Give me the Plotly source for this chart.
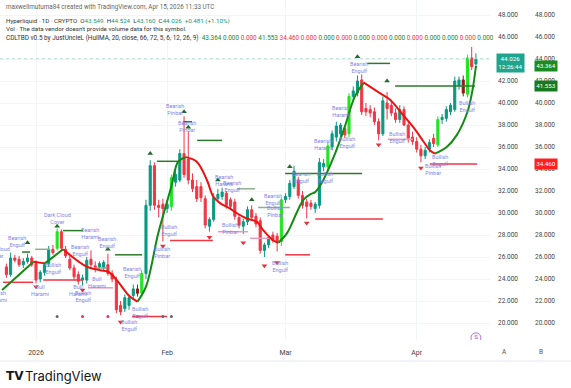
import pandas as pd
import plotly.graph_objects as go

BASE = pd.Timestamp("2026-01-01")

# ---------------- data (day offsets from 2026-01-01) ----------------
day = list(range(-7, 105))
opens = [25.1, 24.4, 25.9, 25.8, 25.3, 25.6, 25.9, 25.4, 24.0, 24.6, 25.4, 26.7, 26.8, 28.3, 26.7, 25.8, 25.0, 24.4, 23.9, 23.9,
         25.8, 25.2, 25.1, 25.0, 25.3, 24.5, 23.9, 21.6, 21.3, 21.6, 22.5, 23.1, 22.7, 24.5, 30.7, 34.3, 30.7, 30.8, 30.4, 30.6,
         32.8, 33.0, 35.4, 34.9, 33.0, 32.4, 32.4, 31.3, 28.8, 29.4, 31.3, 31.5, 31.8, 31.2, 31.0, 29.6, 28.8, 29.2, 30.3, 29.7,
         29.3, 26.6, 27.1, 28.0, 27.9, 27.4, 31.2, 31.5, 32.4, 33.0, 31.6, 31.0, 30.9, 30.4, 30.7, 34.2, 34.2, 36.0, 36.9, 37.2,
         37.7, 37.2, 40.6, 40.9, 42.1, 39.5, 39.4, 39.2, 38.3, 37.2, 40.0, 39.8, 39.1, 38.5, 39.4, 38.0, 36.9, 36.5, 35.8, 35.2,
         35.8, 36.8, 36.2, 38.5, 38.6, 39.2, 39.4, 41.6, 42.1, 40.8, 44.1, 43.549]
highs = [25.4, 26.4, 26.2, 26.1, 25.9, 26.3, 26.1, 25.7, 24.8, 25.5, 27.0, 27.1, 28.6, 28.5, 27.0, 26.1, 25.3, 24.7, 24.4, 26.0,
         26.6, 25.6, 25.6, 25.7, 26.3, 24.8, 24.2, 22.0, 22.6, 22.5, 23.5, 23.5, 24.8, 31.2, 34.8, 34.6, 31.2, 31.3, 31.2, 33.5,
         33.9, 35.8, 38.8, 37.4, 33.6, 33.0, 32.8, 31.6, 29.6, 31.8, 32.2, 32.3, 32.0, 31.4, 31.3, 29.9, 29.5, 30.6, 30.7, 30.0,
         29.6, 27.3, 28.0, 28.3, 28.2, 31.4, 31.8, 33.0, 34.3, 33.3, 32.0, 31.3, 31.2, 31.0, 35.0, 34.9, 36.4, 37.5, 38.3, 38.2,
         38.0, 40.9, 41.5, 42.5, 42.6, 40.0, 39.8, 39.6, 38.6, 40.6, 41.0, 40.3, 39.5, 39.8, 39.7, 38.3, 37.4, 36.9, 36.2, 36.0,
         36.7, 37.2, 38.8, 39.0, 39.7, 40.0, 42.4, 42.4, 42.5, 44.4, 45.1, 44.524]
lows = [24.1, 24.2, 25.5, 25.1, 25.0, 25.4, 25.1, 23.6, 23.7, 24.3, 25.1, 26.2, 26.6, 26.6, 25.9, 24.8, 23.9, 23.5, 23.4, 23.6,
        24.9, 24.6, 24.8, 24.8, 24.3, 23.7, 20.9, 20.7, 21.0, 21.2, 22.2, 22.4, 22.4, 24.0, 30.2, 30.3, 29.6, 27.4, 30.0, 30.2,
        32.4, 32.8, 33.2, 32.6, 31.9, 31.0, 31.0, 28.6, 28.3, 29.2, 31.0, 31.2, 30.4, 30.3, 29.4, 28.6, 28.1, 28.9, 29.3, 28.7,
        26.3, 26.0, 26.8, 27.3, 26.5, 27.0, 30.9, 31.2, 32.2, 31.3, 30.4, 29.5, 30.3, 30.0, 30.4, 33.8, 33.9, 35.7, 36.5, 36.9,
        36.8, 36.9, 40.2, 40.6, 38.9, 38.8, 38.7, 38.0, 36.6, 37.0, 38.5, 38.8, 38.2, 38.2, 37.9, 36.4, 36.2, 35.5, 34.6, 34.9,
        35.5, 36.0, 36.0, 38.1, 38.3, 38.9, 39.2, 41.2, 40.6, 40.5, 43.0, 43.160]
closes = [24.4, 25.9, 25.7, 25.3, 25.6, 25.9, 25.3, 23.9, 24.6, 25.3, 26.7, 26.4, 28.3, 26.8, 26.1, 25.0, 24.2, 23.8, 24.1, 25.7,
          25.3, 25.1, 25.4, 25.5, 24.5, 24.0, 21.2, 21.0, 22.3, 22.3, 23.1, 22.7, 24.5, 30.7, 34.3, 30.7, 30.5, 30.4, 30.8, 33.2,
          33.5, 35.4, 33.5, 33.0, 32.2, 31.3, 31.4, 28.9, 29.4, 31.4, 31.7, 31.9, 30.7, 30.6, 29.7, 28.9, 29.2, 30.3, 29.6, 29.0,
          26.6, 27.1, 27.8, 27.5, 27.4, 31.2, 31.5, 32.7, 33.8, 31.6, 30.7, 30.6, 30.6, 30.8, 34.6, 34.5, 36.1, 37.2, 37.9, 38.0,
          37.1, 40.6, 41.1, 42.0, 39.2, 39.2, 39.1, 38.3, 37.2, 40.2, 39.5, 39.1, 38.5, 39.4, 38.0, 36.8, 36.5, 35.8, 35.2, 35.7,
          36.4, 36.3, 38.5, 38.7, 39.4, 39.8, 42.0, 42.1, 40.9, 44.1, 43.3, 44.026]
lime_days = [5, 25, 32, 58, 69, 74, 95, 102]
maroon_days = [24, 101]

# HullMA line
hull_day = [-8, -0.6, 2.1, 6.4, 12, 15.1, 17.1, 19.1, 22.2, 24, 26, 28.9, 32, 33.6, 35.4, 38, 40.4, 41.9, 43.5,
            45.9, 47.4, 49.8, 52.2, 53.7, 56.1, 57.3, 59.3, 61.6, 63.2, 64.8, 66, 67.5, 70.7, 73, 75.4, 77.5, 81.3,
            83.7, 86.8, 89.2, 91.6, 93.1, 94.3, 97.1, 99.5, 102, 103.2, 104]
hull_val = [23.0, 25.57, 25.42, 26.7, 25.12, 24.8, 24.66, 23.9, 22.4, 21.94, 23.3, 28.15, 32.4, 34.67, 35.08, 34.67,
            33.0, 31.5, 30.9, 30.4, 30.0, 29.5, 29.2, 28.45, 27.5, 27.3, 28.15, 30.0, 31.2, 31.7, 31.9, 32.7, 35.4,
            37.85, 40.6, 41.85, 40.9, 40.3, 38.9, 37.8, 36.5, 35.7, 35.4, 36.0, 37.1, 39.2, 41.2, 43.364]

# support / resistance segments: (start day, end day, level)
lv_green = [(-3.3, -1.4, 26.45), (6.4, 11.1, 28.4), (18.7, 25.1, 26.2), (28.6, 33.6, 34.7), (34.8, 36.9, 38.3),
            (38.1, 44.0, 36.6), (58.9, 77.1, 33.6), (78.3, 83.7, 43.6), (84.9, 103.8, 41.553)]
lv_grey = [(-0.2, 3.3, 26.7), (14.0, 16.8, 25.0), (47.5, 51.8, 32.2), (52.5, 60.0, 30.5)]
lv_red = [(-7.8, -0.7, 23.7), (1.7, 11.1, 23.9), (22.7, 31.0, 20.6), (31.7, 41.8, 27.5), (58.9, 64.8, 26.2),
          (66.0, 82.0, 29.45), (93.1, 104.3, 34.46)]
lv_pink = [(12.3, 18.2, 23.2), (43.0, 50.1, 28.3), (50.6, 55.3, 27.7), (83.2, 89.1, 36.7)]

up_tri_day = [-2, 5, 17, 27, 35, 36, 43, 51, 60, 76, 83]
up_tri_val = [27.3, 28.8, 26.7, 35.4, 39.2, 37.8, 33.0, 31.2, 34.2, 44.2, 42.0]
dn_tri_day = [0, 11, 20, 30, 41, 49, 54, 57, 64, 81, 91]
dn_tri_val = [23.3, 23.0, 20.1, 27.0, 27.8, 27.3, 25.2, 25.5, 29.1, 36.2, 34.1]

dot_grey_day = [5, 30, 32]
dot_red_day = [11, 17, 24]
dot_level = 20.6

pat_text = ["Bearish<br>Engulf", "Dark Cloud<br>Cover", "Bullish<br>Harami", "Dark Cloud<br>Cover", "Bull<br>Harami",
            "Bullish<br>Engulf", "Bearish<br>Harami", "Bearish<br>Engulf", "Bearish<br>Engulf", "Bull<br>Harami",
            "Bullish<br>Engulf", "Bull<br>Harami", "Bearish<br>Engulf", "Bullish<br>Engulf", "Bullish<br>Engulf",
            "Bearish<br>Pinbar", "Bearish<br>Pinbar", "Bullish<br>Engulf", "Bullish<br>Pinbar", "Bearish<br>Harami",
            "Bearish<br>Engulf", "Bullish<br>Pinbar", "Bearish<br>Engulf", "Bullish<br>Pinbar", "Bullish<br>Engulf",
            "Bearish<br>Engulf", "Bearish<br>Harami", "Bullish<br>Engulf", "Bullish<br>Engulf", "Bearish<br>Harami",
            "Bearish<br>Engulf", "Bullish<br>Engulf", "Bullish<br>Engulf", "Bullish<br>Pinbar", "Bullish<br>Engulf"]
pat_day = [-4.5, -5.7, -6.4, 5, 1, 4, 12.8, 10.4, 16.8, 10, 11, 14.4, 22.7, 24.6, 22, 32.9, 35.7, 31.4, 29.8, 44.4,
           46.3, 45.9, 56, 56.5, 57.7, 62.6, 67.8, 68.3, 73.5, 72.1, 76.4, 85.3, 95.5, 93.9, 101.9]
pat_val = [27.45, 26.45, 22.45, 29.5, 23.0, 25.0, 28.1, 26.6, 27.3, 23.0, 22.4, 23.7, 24.6, 21.0, 19.8, 39.4, 37.9,
           28.45, 26.4, 33.0, 32.4, 28.6, 31.2, 30.1, 25.1, 33.2, 36.2, 33.2, 36.4, 39.2, 43.2, 36.9, 34.8, 34.0, 39.7]

price_ticks = [20, 22, 24, 26, 28, 30, 32, 34, 36, 38, 40, 42, 44, 46, 48]
month_ticks = ["2026-01-01", "2026-02-01", "2026-03-01", "2026-04-01"]
month_text = ["2026", "Feb", "Mar", "Apr"]

legend_vals = ["43.364", "0.000", "0.000", "41.553", "34.460"] + ["0.000"] * 11
legend_cols = ["g", "g", "r", "g", "r", "r", "g", "r", "g", "r", "g", "r", "g", "g", "r", "g"]

# ---------------- styling ----------------
UP, DN, LIME, MAROON = "#089981", "#F23645", "#1ee61e", "#8e1b1b"
HULL_UP, HULL_DN = "#138a13", "#ee1111"
LBL = "#7f86e6"
FONT = "Roboto"
W, H = 571, 388
PLOT_R = 490
PLOT_B = 340


def dt(d):
    return BASE + pd.Timedelta(days=d)


dates = [dt(d) for d in day]
fig = go.Figure()


def candles(idx, inc, dec):
    fig.add_trace(go.Candlestick(
        x=[dates[i] for i in idx], open=[opens[i] for i in idx], high=[highs[i] for i in idx],
        low=[lows[i] for i in idx], close=[closes[i] for i in idx],
        increasing=dict(line=dict(color=inc, width=1), fillcolor=inc),
        decreasing=dict(line=dict(color=dec, width=1), fillcolor=dec),
        whiskerwidth=0, showlegend=False, hoverinfo="skip"))


special = set(lime_days) | set(maroon_days)
candles([i for i, d in enumerate(day) if d not in special], UP, DN)
candles([i for i, d in enumerate(day) if d in lime_days], LIME, LIME)
candles([i for i, d in enumerate(day) if d in maroon_days], MAROON, MAROON)

# level segments
for segs, col, w in [(lv_green, "#2b7a2b", 1.5), (lv_grey, "#8fae8f", 1.5), (lv_red, "#f23645", 1.5),
                     (lv_pink, "#e99ab8", 1.5)]:
    for d0, d1, p in segs:
        fig.add_trace(go.Scatter(x=[dt(d0), dt(d1)], y=[p, p], mode="lines", line=dict(color=col, width=w),
                                 showlegend=False, hoverinfo="skip"))

# Hull line, coloured by direction
ext = [0]
for i in range(1, len(hull_val) - 1):
    if (hull_val[i] - hull_val[i - 1]) * (hull_val[i + 1] - hull_val[i]) < 0:
        ext.append(i)
ext.append(len(hull_val) - 1)
for a, b in zip(ext[:-1], ext[1:]):
    col = HULL_UP if hull_val[b] > hull_val[a] else HULL_DN
    fig.add_trace(go.Scatter(x=[dt(d) for d in hull_day[a:b + 1]], y=hull_val[a:b + 1], mode="lines",
                             line=dict(color=col, width=2, shape="spline", smoothing=1.0),
                             showlegend=False, hoverinfo="skip"))

fig.add_trace(go.Scatter(x=[dt(d) for d in up_tri_day], y=up_tri_val, mode="markers",
                         marker=dict(symbol="triangle-up", size=5, color="#1f6b2a"), showlegend=False, hoverinfo="skip"))
fig.add_trace(go.Scatter(x=[dt(d) for d in dn_tri_day], y=dn_tri_val, mode="markers",
                         marker=dict(symbol="triangle-down", size=5, color="#e8303a"), showlegend=False, hoverinfo="skip"))
fig.add_trace(go.Scatter(x=[dt(d) for d in dot_grey_day], y=[dot_level] * len(dot_grey_day), mode="markers",
                         marker=dict(size=3, color="#666"), showlegend=False, hoverinfo="skip"))
fig.add_trace(go.Scatter(x=[dt(d) for d in dot_red_day], y=[dot_level] * len(dot_red_day), mode="markers",
                         marker=dict(size=3, color="#e8306a"), showlegend=False, hoverinfo="skip"))
# event marker
fig.add_trace(go.Scatter(x=[dates[-1]], y=[18.65], mode="markers+text", text=["S"],
                         textfont=dict(size=6, color="#a040c8", family=FONT),
                         marker=dict(symbol="circle-open", size=10, color="#b070d8", line=dict(width=1)),
                         showlegend=False, hoverinfo="skip"))
# dummy on second price axis
fig.add_trace(go.Scatter(x=[dates[0]], y=[None], yaxis="y2", showlegend=False, hoverinfo="skip"))

ann = []
for t, d, p in zip(pat_text, pat_day, pat_val):
    xa = "right" if d < -5 else "center"
    ann.append(dict(x=dt(d), y=p, xref="x", yref="y", text=t, showarrow=False, xanchor=xa,
                    align="center", font=dict(size=5.5, color=LBL, family=FONT)))


def px(xp):
    return xp / W


def py(yp):
    return 1 - yp / H


SP = "\u00a0"
hdr = dict(xref="paper", yref="paper", showarrow=False, xanchor="left", yanchor="middle",
           font=dict(size=6.2, color="#333", family=FONT))
g = lambda s: f'<span style="color:#089981">{s}</span>'
ann.append(dict(hdr, x=px(4), y=py(7), text="maxwellmutuma84 created with TradingView.com, Apr 15, 2026 11:33 UTC",
                font=dict(size=6.3, color="#666", family=FONT)))
ann.append(dict(hdr, x=px(4), y=py(20.7),
                text="Hyperliquid · 1D · CRYPTO" + SP * 2 + "O" + g("43.549") + SP * 2 + "H" + g("44.524") + SP * 2 +
                     "L" + g("43.160") + SP * 2 + "C" + g("44.026") + SP * 2 + g("+0.481 (+1.10%)")))
ann.append(dict(hdr, x=px(4), y=py(29.3), text="Vol · The data vendor doesn't provide volume data for this symbol."))
cmap = {"g": "#1a8a2a", "r": "#f23645"}
vals = SP.join(f'<span style="color:{cmap[c]}">{v}</span>' for v, c in zip(legend_vals, legend_cols))
ann.append(dict(hdr, x=px(4), y=py(37.7),
                text="CDLTBD v0.5 by JustUncleL (HullMA, 20, close, 66, 72, 5, 6, 12, 26, 9)" + SP * 2 + vals,
                font=dict(size=6.4, color="#333", family=FONT)))

# axis price labels
box = dict(xref="paper", yref="y", showarrow=False, xanchor="center", yanchor="middle", borderpad=1.2,
           font=dict(size=6.2, color="white", family=FONT))
ann.append(dict(box, x=px(510), y=43.6, text="44.026<br>12:26:44", bgcolor="#1fa58e"))
ann.append(dict(box, x=px(546), y=43.364, text="43.364", bgcolor="#1b8c22"))
ann.append(dict(box, x=px(546), y=41.553, text="41.553", bgcolor="#187a1e"))
ann.append(dict(box, x=px(546), y=34.46, text="34.460", bgcolor="#ff1f1f"))
for xp, t in [(509, "A"), (545, "B")]:
    ann.append(dict(x=px(xp), y=py(352), xref="paper", yref="paper", text=t, showarrow=False, yanchor="middle",
                    font=dict(size=6.5, color="#555", family=FONT)))
ann.append(dict(x=px(4), y=py(376), xref="paper", yref="paper", xanchor="left", yanchor="middle", text="<b>TV</b>",
                showarrow=False, font=dict(size=12, color="#131722", family="DejaVu Sans")))
ann.append(dict(x=px(23), y=py(376), xref="paper", yref="paper", xanchor="left", yanchor="middle",
                text="TradingView", showarrow=False, font=dict(size=13, color="#131722", family="Inter")))

y_lo = 48 - (PLOT_B - 15) / 11
y_hi = 48 + 15 / 11
x_lo = dt((0 - 36) / 4.23)
x_hi = dt((PLOT_R - 36) / 4.23)

fig.update_layout(
    template="none",
    width=W, height=H, margin=dict(l=0, r=0, t=0, b=0, pad=0, autoexpand=False), paper_bgcolor="white",
    plot_bgcolor="white", showlegend=False, hovermode=False, annotations=ann, font=dict(family=FONT),
    xaxis=dict(type="date", domain=[0, PLOT_R / W], range=[x_lo, x_hi], rangeslider=dict(visible=False),
               tickvals=month_ticks, ticktext=month_text, ticks="", ticklabelstandoff=7, automargin=False,
               tickfont=dict(size=7, color="#444"), showgrid=True, gridcolor="#f3f4f7", zeroline=False,
               showline=False, fixedrange=True),
    yaxis=dict(domain=[(H - PLOT_B) / H, 1], range=[y_lo, y_hi], side="right", tickvals=price_ticks,
               tickformat=".3f", ticks="", ticklabelstandoff=7, tickfont=dict(size=6.5, color="#444"),
               automargin=False, showgrid=True, gridcolor="#f3f4f7", zeroline=False, showline=False),
    yaxis2=dict(overlaying="y", anchor="free", position=527 / W, side="right", range=[y_lo, y_hi],
                tickvals=price_ticks, tickformat=".3f", ticks="", ticklabelstandoff=7, automargin=False,
                tickfont=dict(size=6.5, color="#444"), showgrid=False, zeroline=False, showline=False),
    shapes=[
        dict(type="line", xref="paper", yref="y", x0=0, x1=PLOT_R / W, y0=44.026, y1=44.026,
             line=dict(color="#b8ddd6", width=1, dash="dot")),
        dict(type="line", xref="paper", yref="paper", x0=0, x1=1, y0=py(361), y1=py(361),
             line=dict(color="#e6e8ee", width=1)),
    ],
)

fig.write_html("out.html", config={"displayModeBar": False, "staticPlot": True},
               post_script="document.body.style.margin='0';document.body.style.padding='0';")
